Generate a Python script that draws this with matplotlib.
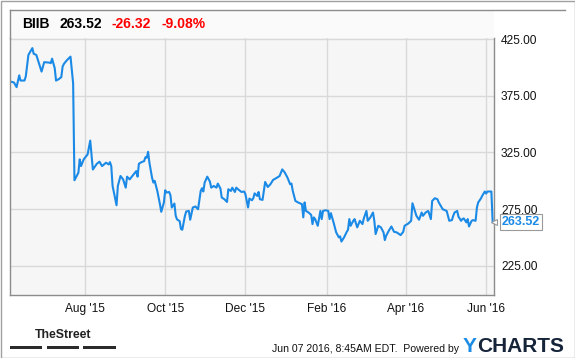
import matplotlib
matplotlib.use("Agg")
import matplotlib.pyplot as plt
from matplotlib import font_manager
from matplotlib.patches import Rectangle
import pandas as pd

# -------------------------------------------------
# Data
# -------------------------------------------------

ticker = "BIIB"
last_price = "263.52"
change = "-26.32"
change_pct = "-9.08%"
stamp = "Jun 07 2016, 8:45AM EDT.  Powered by"

dates = [
    "2015-06-05", "2015-06-08", "2015-06-10", "2015-06-12", "2015-06-13", "2015-06-16",
    "2015-06-17", "2015-06-19", "2015-06-22", "2015-06-23", "2015-06-25", "2015-06-27",
    "2015-06-29", "2015-07-01", "2015-07-05", "2015-07-06", "2015-07-07", "2015-07-09",
    "2015-07-10", "2015-07-12", "2015-07-14", "2015-07-15", "2015-07-16", "2015-07-18",
    "2015-07-21", "2015-07-22", "2015-07-23", "2015-07-24", "2015-07-27", "2015-07-28",
    "2015-07-29", "2015-07-31", "2015-08-03", "2015-08-05", "2015-08-07", "2015-08-10",
    "2015-08-12", "2015-08-14", "2015-08-17", "2015-08-19", "2015-08-20", "2015-08-21",
    "2015-08-22", "2015-08-25", "2015-08-26", "2015-08-28", "2015-08-30", "2015-09-01",
    "2015-09-02", "2015-09-04", "2015-09-06", "2015-09-08", "2015-09-09", "2015-09-10",
    "2015-09-11", "2015-09-13", "2015-09-15", "2015-09-16", "2015-09-17", "2015-09-18",
    "2015-09-19", "2015-09-21", "2015-09-22", "2015-09-23", "2015-09-25", "2015-09-27",
    "2015-09-28", "2015-09-30", "2015-10-01", "2015-10-02", "2015-10-04", "2015-10-05",
    "2015-10-06", "2015-10-08", "2015-10-09", "2015-10-10", "2015-10-12", "2015-10-13",
    "2015-10-14", "2015-10-16", "2015-10-17", "2015-10-19", "2015-10-20", "2015-10-22",
    "2015-10-24", "2015-10-26", "2015-10-28", "2015-10-29", "2015-10-30", "2015-10-31",
    "2015-11-02", "2015-11-04", "2015-11-05", "2015-11-07", "2015-11-09", "2015-11-10",
    "2015-11-12", "2015-11-13", "2015-11-15", "2015-11-17", "2015-11-18", "2015-11-20",
    "2015-11-21", "2015-11-23", "2015-11-24", "2015-11-26", "2015-11-28", "2015-11-30",
    "2015-12-01", "2015-12-03", "2015-12-04", "2015-12-06", "2015-12-07", "2015-12-08",
    "2015-12-10", "2015-12-11", "2015-12-12", "2015-12-14", "2015-12-16", "2015-12-18",
    "2015-12-20", "2015-12-22", "2015-12-25", "2015-12-27", "2015-12-29", "2015-12-31",
    "2016-01-02", "2016-01-04", "2016-01-05", "2016-01-06", "2016-01-08", "2016-01-10",
    "2016-01-13", "2016-01-14", "2016-01-15", "2016-01-16", "2016-01-18", "2016-01-20",
    "2016-01-21", "2016-01-22", "2016-01-23", "2016-01-25", "2016-01-27", "2016-01-28",
    "2016-01-29", "2016-01-31", "2016-02-02", "2016-02-03", "2016-02-04", "2016-02-06",
    "2016-02-08", "2016-02-10", "2016-02-11", "2016-02-12", "2016-02-14", "2016-02-16",
    "2016-02-17", "2016-02-18", "2016-02-19", "2016-02-21", "2016-02-22", "2016-02-24",
    "2016-02-26", "2016-02-28", "2016-02-29", "2016-03-02", "2016-03-03", "2016-03-05",
    "2016-03-07", "2016-03-08", "2016-03-09", "2016-03-11", "2016-03-13", "2016-03-15",
    "2016-03-16", "2016-03-17", "2016-03-19", "2016-03-21", "2016-03-23", "2016-03-25",
    "2016-03-28", "2016-03-30", "2016-03-31", "2016-04-03", "2016-04-05", "2016-04-06",
    "2016-04-08", "2016-04-09", "2016-04-11", "2016-04-13", "2016-04-14", "2016-04-16",
    "2016-04-18", "2016-04-20", "2016-04-21", "2016-04-23", "2016-04-25", "2016-04-26",
    "2016-04-29", "2016-05-02", "2016-05-04", "2016-05-06", "2016-05-07", "2016-05-08",
    "2016-05-10", "2016-05-11", "2016-05-13", "2016-05-14", "2016-05-15", "2016-05-17",
    "2016-05-18", "2016-05-19", "2016-05-21", "2016-05-22", "2016-05-24", "2016-05-25",
    "2016-05-26", "2016-05-28", "2016-05-29", "2016-05-31", "2016-06-01", "2016-06-02",
    "2016-06-05", "2016-06-06",
]

prices = [
    387.6, 386.7, 382.6, 393.0, 388.4, 388.4,
    392.0, 411.0, 417.0, 412.0, 411.0, 403.7,
    396.3, 404.6, 404.2, 403.7, 407.7, 399.3,
    388.4, 389.6, 391.4, 400.7, 403.1, 406.0,
    409.5, 397.8, 386.0, 300.5, 307.2, 318.9,
    313.0, 318.9, 323.3, 335.5, 310.0, 315.0,
    316.9, 313.0, 316.0, 314.5, 316.5, 313.0,
    295.5, 278.5, 295.5, 304.3, 301.3, 294.0,
    303.7, 301.3, 304.3, 307.2, 308.6, 303.7,
    315.1, 316.5, 317.4, 320.9, 320.4, 325.6,
    316.0, 302.8, 298.5, 300.0, 291.1, 279.4,
    272.7, 280.9, 291.7, 289.7, 290.2, 287.3,
    276.5, 280.0, 269.2, 266.0, 264.5, 257.5,
    256.9, 269.2, 273.0, 273.5, 265.7, 276.5,
    277.4, 275.0, 291.1, 293.5, 290.6, 298.5,
    303.7, 299.3, 294.0, 295.5, 294.0, 297.6,
    293.2, 285.3, 283.8, 281.4, 292.6, 291.1,
    294.0, 290.2, 294.0, 292.0, 290.2, 290.6,
    288.2, 276.5, 284.4, 282.9, 284.7, 289.0,
    286.7, 290.2, 283.8, 283.2, 299.0, 294.6,
    297.0, 300.8, 302.8, 304.3, 310.1, 307.2,
    302.8, 297.0, 297.6, 291.1, 282.3, 281.0,
    279.4, 267.8, 281.0, 273.5, 272.1, 270.0,
    261.9, 267.8, 266.3, 260.4, 273.5, 266.3,
    273.5, 274.1, 273.5, 266.3, 271.5, 263.4,
    254.6, 250.2, 251.1, 246.5, 250.2, 255.0,
    256.9, 266.3, 260.4, 264.8, 266.3, 259.0,
    264.8, 261.9, 266.9, 273.5, 264.8, 267.8,
    272.1, 264.8, 253.1, 260.4, 259.0, 254.6,
    247.8, 251.6, 256.0, 259.8, 255.1, 254.6,
    252.2, 255.1, 260.4, 262.5, 264.8, 280.3,
    272.7, 269.2, 265.7, 272.1, 269.2, 272.1,
    273.5, 266.3, 282.3, 284.7, 283.8, 281.0,
    275.0, 273.5, 264.8, 265.4, 269.2, 272.1,
    273.5, 268.4, 264.8, 266.3, 266.9, 263.4,
    266.3, 259.8, 264.8, 265.4, 264.8, 276.5,
    281.0, 284.4, 286.7, 290.6, 288.8, 290.6,
    290.6, 263.52,
]

y_ticks = [225, 275, 325, 375, 425]
x_ticks = ["2015-08-01", "2015-10-01", "2015-12-01", "2016-02-01", "2016-04-01", "2016-06-01"]
x_tick_labels = ["Aug '15", "Oct '15", "Dec '15", "Feb '16", "Apr '16", "Jun '16"]

# -------------------------------------------------
# Style
# -------------------------------------------------

W, H = 575, 358
BLUE = "#1b8ae6"
RED = "#ff0000"
FRAME = "#8c8c8c"
GRID = "#d9d9d9"
plt.rcParams["font.family"] = ["Liberation Sans", "DejaVu Sans"]

# narrow font for the TheStreet logo, if there is one
installed = {f.name for f in font_manager.fontManager.ttflist}
if "Liberation Sans Narrow" in installed:
    logo_font, logo_size = ["Liberation Sans Narrow"], 10.5
else:
    logo_font, logo_size = ["Liberation Sans", "DejaVu Sans"], 8.8


def fx(x):
    return x / W


def fy(y):
    return 1 - y / H


fig = plt.figure(figsize=(W / 100, H / 100), dpi=100)
fig.patch.set_facecolor("white")

# outer border of the image
fig.patches.append(Rectangle((0.5 / W, 0.5 / H), 1 - 1 / W, 1 - 1 / H,
                             transform=fig.transFigure, fill=False,
                             edgecolor="#a0a0a0", lw=1))

# header strip (kept below the axes so the top tick label is not covered)
fig.patches.append(Rectangle((fx(10), fy(38)), fx(484), 28 / H,
                             transform=fig.transFigure, facecolor="#fafafa",
                             edgecolor="none", zorder=-1))
fig.add_artist(plt.Line2D([fx(10), fx(565)], [fy(10), fy(10)], color=FRAME, lw=1))
fig.add_artist(plt.Line2D([fx(10), fx(10)], [fy(10), fy(38)], color=FRAME, lw=1))
fig.add_artist(plt.Line2D([fx(10), fx(494)], [fy(38), fy(38)], color=GRID, lw=1, zorder=-1))

# -------------------------------------------------
# Main plot
# -------------------------------------------------

ax = fig.add_axes([fx(10), fy(295), 484 / W, 257 / H])
ax.set_facecolor("#f6f6f6")

x = pd.to_datetime(dates)
ax.plot(x, prices, color=BLUE, lw=1.5, solid_joinstyle="round")

ax.set_xlim(pd.Timestamp("2015-06-05"), pd.Timestamp("2016-06-07"))
ax.set_ylim(199.4, 425.9)

ax.set_yticks(y_ticks)
ax.set_yticklabels([f"{v:.2f}" for v in y_ticks])
ax.yaxis.tick_right()
ax.set_xticks(pd.to_datetime(x_ticks))
ax.set_xticklabels(x_tick_labels)
ax.tick_params(axis="y", length=0, pad=5, labelsize=8.6, labelcolor="#111111")
ax.tick_params(axis="x", length=0, pad=6, labelsize=8.6, labelcolor="#111111")

ax.grid(True, color=GRID, lw=1)
ax.set_axisbelow(True)
for side in ["left", "bottom", "right"]:
    ax.spines[side].set_color(FRAME)
    ax.spines[side].set_linewidth(1)
ax.spines["top"].set_visible(False)

# last value flag
ax.annotate(last_price, xy=(1, prices[-1]), xycoords=("axes fraction", "data"),
            xytext=(5.5, 0), textcoords="offset points", ha="left", va="center",
            fontsize=9, fontweight="bold", color=BLUE,
            bbox=dict(boxstyle="square,pad=0.15", fc="white", ec="#9a9a9a", lw=0.8),
            annotation_clip=False)
ax.plot([1.0], [prices[-1]], marker="<", ms=5, mfc="white", mec="#9a9a9a", mew=0.8,
        transform=ax.get_yaxis_transform(), clip_on=False, zorder=5)

# -------------------------------------------------
# Header and footer text
# -------------------------------------------------

head_y = fy(24)
fig.text(fx(22), head_y, ticker, fontsize=10, fontweight="bold", va="center")
fig.text(fx(59), head_y, last_price, fontsize=10, fontweight="bold", va="center")
fig.text(fx(112), head_y, change, fontsize=10, fontweight="bold", va="center", color=RED)
fig.text(fx(161), head_y, change_pct, fontsize=10, fontweight="bold", va="center", color=RED)

fig.text(fx(35), fy(335), "TheStreet", fontsize=logo_size, fontweight="bold", va="center",
         family=logo_font, color="#222222")
for x0, x1 in [(10, 42), (47, 79), (83, 116)]:
    fig.patches.append(Rectangle((fx(x0), fy(349)), fx(x1 - x0), 3 / H,
                                 transform=fig.transFigure, facecolor="#2b2b2b",
                                 edgecolor="none"))

fig.text(fx(459), fy(349), stamp, fontsize=7.6, ha="right", va="center", color="#111111")
fig.text(fx(463), fy(347), "Y", fontsize=15, fontweight="bold", va="center", color="#1a8ce6")
fig.text(fx(477), fy(347), "CHARTS", fontsize=15, fontweight="bold", va="center", color="#16243a")

fig.savefig("out.png", dpi=100)
